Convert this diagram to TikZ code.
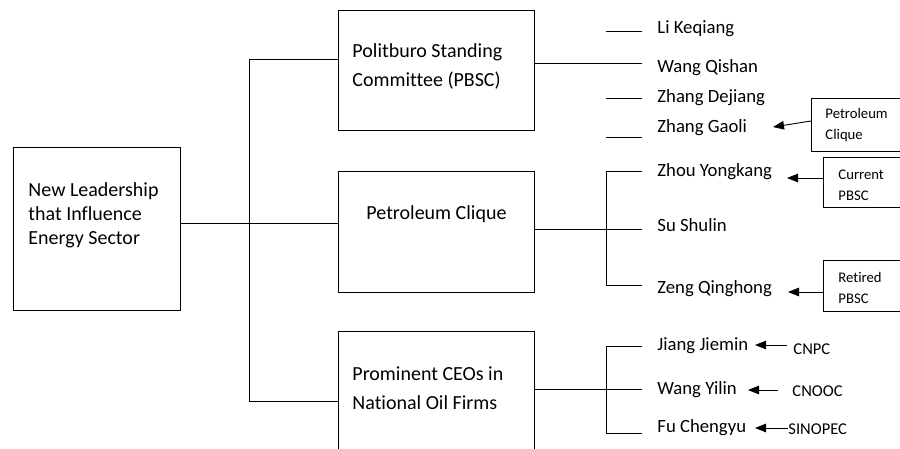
\documentclass[tikz,border=0pt]{standalone}
\usepackage{fontspec}
\setmainfont{Carlito}[Ligatures=NoCommon]
\usetikzlibrary{arrows.meta}
\begin{document}
\begin{tikzpicture}[x=1pt,y=-1pt,line width=0.9pt,
  box/.style={draw,rectangle,inner sep=0pt,anchor=north west},
  txt/.style={inner sep=0pt,anchor=west,font=\fontsize{18.7}{24}\selectfont},
  txtl/.style={inner sep=0pt,anchor=west,align=left,font=\fontsize{20}{24}\selectfont},
  txtb/.style={inner sep=0pt,anchor=west,align=left,font=\fontsize{20}{29}\selectfont},
  small/.style={inner sep=0pt,anchor=west,align=left,font=\fontsize{14.7}{21}\selectfont},
  firm/.style={inner sep=0pt,anchor=west,font=\fontsize{16.5}{20}\selectfont},
  arr/.style={-{Triangle[length=11pt,width=8.5pt]}}]
\clip (0,0) rectangle (900,448);
\fill[white] (0,0) rectangle (900,448);
% main boxes
\node[box,minimum width=167pt,minimum height=163pt] (lead) at (13,147) {};
\node[box,minimum width=196pt,minimum height=120pt] (pbsc) at (338,10) {};
\node[box,minimum width=196pt,minimum height=121pt] (pet) at (338,171) {};
\node[box,minimum width=196pt,minimum height=140pt] (ceo) at (338,331) {};
% side boxes
\node[box,minimum width=120pt,minimum height=53pt] (pcb) at (811,98) {};
\node[box,minimum width=120pt,minimum height=50pt] (cur) at (823,157) {};
\node[box,minimum width=120pt,minimum height=51pt] (ret) at (823,260) {};
% box texts
\node[txtl] (leadtxt) at (28,215) {New Leadership\\that Influence\\Energy Sector};
\node[txtb] (pbsctxt) at (352,66.5) {Politburo Standing\\Committee (PBSC)};
\node[txtl,anchor=center] (pettxt) at (436.5,214) {Petroleum Clique};
\node[txtb] (ceotxt) at (352,388) {Prominent CEOs in\\National Oil Firms};
\node[small] (pcbtxt) at (825,125.5) {Petroleum\\Clique};
\node[small] (curtxt) at (838,185) {Current\\PBSC};
\node[small] (rettxt) at (838,288) {Retired\\PBSC};
% names
\node[txt] (lk) at (657,29) {Li Keqiang};
\node[txt] (wq) at (657,68) {Wang Qishan};
\node[txt] (zd) at (657,98) {Zhang Dejiang};
\node[txt] (zg) at (657,128) {Zhang Gaoli};
\node[txt] (zy) at (657,172) {Zhou Yongkang};
\node[txt] (ss) at (657,225) {Su Shulin};
\node[txt] (zq) at (657,289) {Zeng Qinghong};
\node[txt] (jj) at (657,346) {Jiang Jiemin};
\node[txt] (wy) at (657,390) {Wang Yilin};
\node[txt] (fc) at (657,428) {Fu Chengyu};
% firms
\node[firm] (cnpc) at (793,349) {CNPC};
\node[firm] (cnooc) at (792,391) {CNOOC};
\node[firm] (sinopec) at (788,429) {SINOPEC};
% left bus
\coordinate (bt) at (249,59);
\coordinate (bm) at (249,223);
\coordinate (bb) at (249,401);
\draw (lead.east |- bm) -- (bm);
\draw (bt) -- (bb);
\draw (bt) -- (bt -| pbsc.west);
\draw (bm) -- (bm -| pet.west);
\draw (bb) -- (bb -| ceo.west);
% PBSC members
\coordinate (wqe) at (642,63);
\draw (pbsc.east |- wqe) -- (wqe);
\coordinate (lka) at (606,31); \coordinate (lkb) at (642,31);
\coordinate (zda) at (606,98); \coordinate (zdb) at (642,98);
\coordinate (zga) at (606,137); \coordinate (zgb) at (642,137);
\draw (lka) -- (lkb);
\draw (zda) -- (zdb);
\draw (zga) -- (zgb);
% petroleum clique bus
\coordinate (pt) at (606,171);
\coordinate (pm) at (606,229);
\coordinate (pb) at (606,285);
\draw (pet.east |- pm) -- (pm);
\draw (pt) -- (pb);
\draw (pt) -- (pt -| lkb);
\draw (pm) -- (pm -| lkb);
\draw (pb) -- (pb -| lkb);
% CEO bus
\coordinate (ct) at (606,346);
\coordinate (cm) at (606,389);
\coordinate (cb) at (606,433);
\draw (ceo.east |- cm) -- (cm);
\draw (ct) -- (cb);
\draw (ct) -- (ct -| lkb);
\draw (cm) -- (cm -| lkb);
\draw (cb) -- (cb -| lkb);
% arrows
\coordinate (zgtip) at (773,127);
\coordinate (zytip) at (787,178);
\coordinate (zqtip) at (788,292);
\draw[arr] (pcb.west |- 0,121) -- (zgtip);
\draw[arr] (cur.west |- zytip) -- (zytip);
\draw[arr] (ret.west |- zqtip) -- (zqtip);
\coordinate (jjtip) at (755,345);
\coordinate (wytip) at (748,390);
\coordinate (fctip) at (755,428);
\draw[arr] ([xshift=-6pt]cnpc.west |- jjtip) -- (jjtip);
\draw[arr] ([xshift=-14pt]cnooc.west |- wytip) -- (wytip);
\draw[arr] (sinopec.west |- fctip) -- (fctip);
\end{tikzpicture}
\end{document}
